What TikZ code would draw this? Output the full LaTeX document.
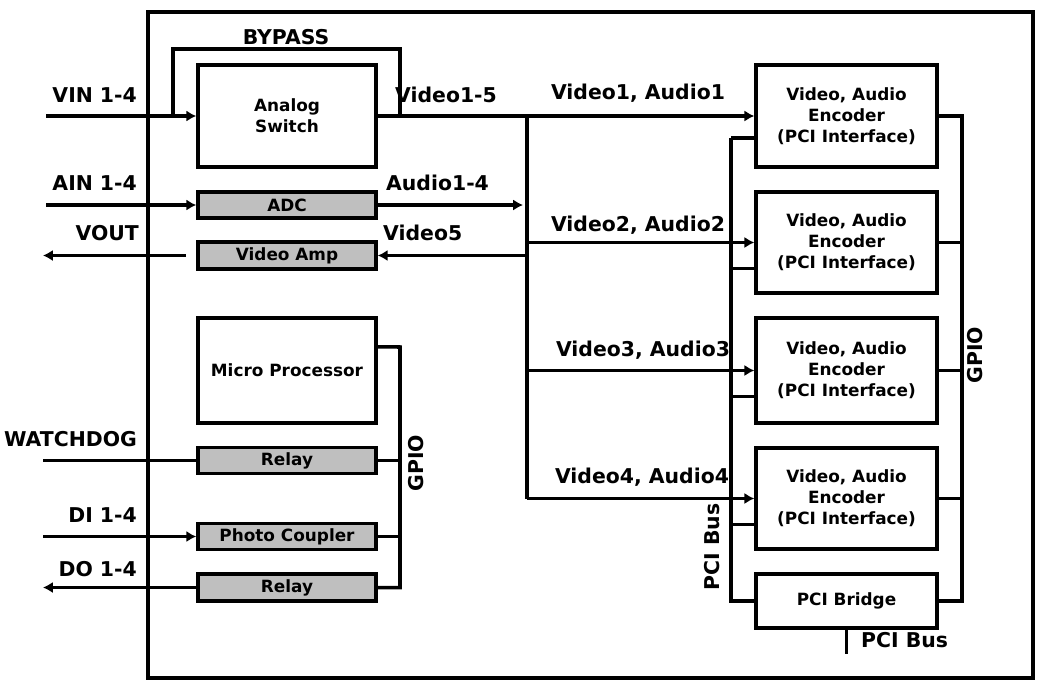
\documentclass[tikz,border=0pt]{standalone}
\usepackage{fontspec}
\setmainfont{DejaVu Sans}
\usetikzlibrary{arrows.meta, positioning}

\begin{document}
\begin{tikzpicture}[
    x=0.025cm, y=-0.025cm,
    line width=2.5pt,
    box/.style={rectangle, draw, minimum width=4.45cm, align=center,
                fill=white, font=\bfseries\fontsize{12}{15}\selectfont},
    graybox/.style={box, fill=black!25},
    encoder/.style={box, minimum width=4.52cm},
    arrow/.style={-{Latex[length=7pt, width=8pt]}},
    sig/.style={font=\bfseries\fontsize{14.5}{16}\selectfont, inner sep=1pt}
]
\useasboundingbox (0,0) rectangle (1040,685);

% Board outline
\draw (148,12) rectangle (1033,678);

% Left column
\node[box, minimum height=2.55cm] (sw) at (287,116) {Analog\\Switch};
\node[graybox, minimum height=0.65cm] (adc) at (287,205) {ADC};
\node[graybox, minimum height=0.675cm] (vamp) at (287,255.5) {Video Amp};
\node[box, minimum height=2.625cm] (mcu) at (287,370.5) {Micro Processor};
\node[graybox, minimum height=0.625cm] (relayA) at (287,460.5) {Relay};
\node[graybox, minimum height=0.625cm] (photo) at (287,536.5) {Photo Coupler};
\node[graybox, minimum height=0.675cm] (relayB) at (287,587.5) {Relay};

% Right column
\node[encoder, minimum height=2.55cm] (enc1) at (846.5,116) {Video, Audio\\Encoder\\(PCI Interface)};
\node[encoder, minimum height=2.525cm] (enc2) at (846.5,242.5) {Video, Audio\\Encoder\\(PCI Interface)};
\node[encoder, minimum height=2.625cm] (enc3) at (846.5,370.5) {Video, Audio\\Encoder\\(PCI Interface)};
\node[encoder, minimum height=2.525cm] (enc4) at (846.5,498.5) {Video, Audio\\Encoder\\(PCI Interface)};
\node[encoder, minimum height=1.35cm] (bridge) at (846.5,601) {PCI Bridge};

% Free ends
\coordinate (vin) at (46,116);
\coordinate (ain) at (46,205);
\coordinate (vout) at (43,255.5);
\coordinate (wdog) at (43,460.5);
\coordinate (din) at (43,536.5);
\coordinate (dout) at (43,587.5);
\coordinate (bpin) at (173,116);
\coordinate (bpout) at (400,116);
\coordinate (vbus) at (527,116);
\coordinate (gpiol) at (400,347);
\coordinate (pcil) at (731,138);
\coordinate (gpior) at (962,116);

% Inputs and outputs
\draw[arrow] (vin) -- (sw.west);
\draw[arrow] (ain) -- (adc.west);
\draw[arrow] ([xshift=-0.25cm]vamp.west) -- (vout);
\draw (wdog) -- (relayA.west);
\draw[arrow] (din) -- (photo.west);
\draw[arrow] (relayB.west) -- (dout);

% Bypass loop
\draw (bpin) -- ++(0,-67) -| (bpout);

% Video / audio bus
\draw[arrow] (sw.east) -- (enc1.west);
\draw (vbus) -- (vbus |- enc4.west);
\foreach \n in {2,3,4}
    \draw[arrow] (vbus |- enc\n.west) -- (enc\n.west);
\draw[arrow] (adc.east) -- ([xshift=-0.1cm]vbus |- adc.east);
\draw[arrow] (vbus |- vamp.east) -- (vamp.east);

% GPIO (left)
\draw ([yshift=0.59cm]mcu.east) -- (gpiol) |- (relayB.east);
\draw (relayA.east) -- (gpiol |- relayA.east);
\draw (photo.east) -- (gpiol |- photo.east);

% PCI bus
\draw (pcil) -- (enc1.west |- pcil);
\draw (pcil) |- (bridge.west);
\foreach \n in {2,3,4}
    \draw ([yshift=-0.65cm]enc\n.west) -- ++(-25,0);
\draw (bridge.south) -- ++(0,24);

% GPIO (right)
\draw (enc1.east) -- (gpior) |- (bridge.east);
\foreach \n in {2,3,4}
    \draw (enc\n.east) -- (gpior |- enc\n.east);

% Labels
\node[sig] (bypass) at (286,37) {BYPASS};
\node[sig, anchor=east] (vinl) at (140,95) {VIN 1-4};
\node[sig, anchor=east] (ainl) at (140,183) {AIN 1-4};
\node[sig, anchor=east] (voutl) at (142,233) {VOUT};
\node[sig, anchor=west] (vid15) at (392,95) {Video1-5};
\node[sig, anchor=west] (aud14) at (383,183) {Audio1-4};
\node[sig, anchor=west] (vid5) at (380,233) {Video5};
\node[sig, anchor=east] (wdogl) at (140,439) {WATCHDOG};
\node[sig, anchor=east] (dil) at (140,515) {DI 1-4};
\node[sig, anchor=east] (dol) at (140,569) {DO 1-4};
\node[sig, rotate=90] (gpioa) at (416,463) {GPIO};
\node[sig] (va1) at (638,93) {Video1, Audio1};
\node[sig] (va2) at (638,225) {Video2, Audio2};
\node[sig] (va3) at (643,350) {Video3, Audio3};
\node[sig] (va4) at (642,477) {Video4, Audio4};
\node[sig, rotate=90] (pcia) at (712,547) {PCI Bus};
\node[sig, rotate=90] (gpiob) at (975,355) {GPIO};
\node[sig, anchor=west] (pcib) at (858,640) {PCI Bus};

\end{tikzpicture}
\end{document}
